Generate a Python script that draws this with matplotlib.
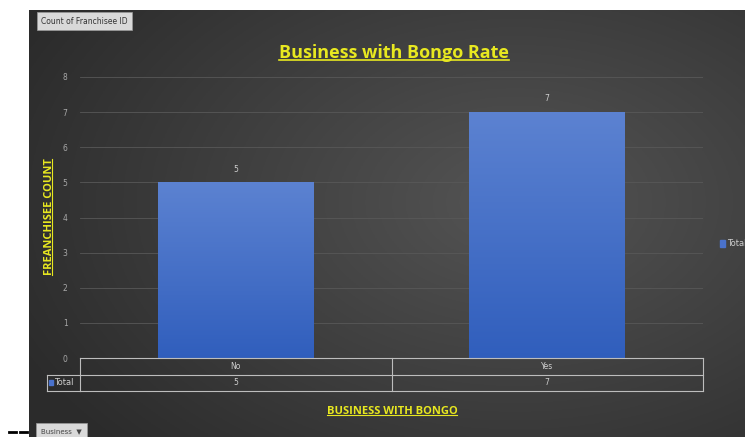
import numpy as np
import matplotlib.pyplot as plt
from matplotlib.patches import Rectangle

categories = ["No", "Yes"]
counts = [5, 7]
series_name = "Total"
title = "Business with Bongo Rate"
xlabel = "BUSINESS WITH BONGO"
ylabel = "FREANCHISEE COUNT"

W, H = 745, 437
fig = plt.figure(figsize=(W / 100, H / 100), dpi=100)
fig.patch.set_facecolor("white")

def fx(px):
    return px / W

def fy(py):
    return 1 - py / H

# dark radial background of the chart area
bg = fig.add_axes([fx(29), 0, 1 - fx(29), fy(10)])
bg.set_axis_off()
yy, xx = np.mgrid[1:0:200j, 0:1:300j]
r = np.sqrt(((xx - 0.68) * 1.3) ** 2 + ((yy - 0.55) * 1.2) ** 2)
shade = 0.33 - 0.16 * np.clip(r, 0, 1.0)
bg.imshow(np.dstack([shade] * 3), aspect="auto", extent=[0, 1, 0, 1])
bg.set_xlim(0, 1)
bg.set_ylim(0, 1)

ax = fig.add_axes([fx(80), fy(358), fx(703) - fx(80), fy(77) - fy(358)])
ax.patch.set_alpha(0)
x = np.arange(len(categories))
ax.set_yticks(range(0, 9))
ax.yaxis.grid(True, color="#585858", linewidth=0.6)
ax.set_axisbelow(True)
for s in ax.spines.values():
    s.set_visible(False)
ax.tick_params(axis="y", length=0, colors="#a8a8a8", labelsize=5.5, pad=9)
ax.tick_params(axis="x", length=0, labelbottom=False)

grad = np.linspace(0, 1, 100).reshape(-1, 1)
bar_cols = np.array([0.36, 0.51, 0.82]) * (1 - grad) + np.array([0.19, 0.37, 0.74]) * grad
bar_cols = bar_cols.reshape(100, 1, 3)
bars = ax.bar(x, counts, width=0.5, color="none", edgecolor="none")
for b, v in zip(bars, counts):
    im = ax.imshow(bar_cols, aspect="auto",
                   extent=[b.get_x(), b.get_x() + b.get_width(), 0, v], zorder=2)
    im.set_clip_path(b)
    ax.text(b.get_x() + b.get_width() / 2, v + 0.25, str(v), ha="center",
            va="bottom", color="#cfcfcf", fontsize=5.5)
ax.set_xlim(-0.5, len(categories) - 0.5)
ax.set_ylim(0, 8)

# data table under the axis
tr = ax.get_xaxis_transform()
row = 16.5 / (358 - 77)
lc = "#bdbdbd"
ax.plot([-0.5, 1.5], [0, 0], color=lc, lw=0.8, transform=tr, clip_on=False)
ax.plot([-0.5, 1.5], [-row, -row], color=lc, lw=0.8, transform=tr, clip_on=False)
ax.plot([-0.5, 1.5], [-2 * row, -2 * row], color=lc, lw=0.8, transform=tr, clip_on=False)
for xv in [-0.5, 0.5, 1.5]:
    ax.plot([xv, xv], [0, -2 * row], color=lc, lw=0.8, transform=tr, clip_on=False)
legx = -0.5 - 33 / 311.5
ax.plot([legx, -0.5], [-row, -row], color=lc, lw=0.8, transform=tr, clip_on=False)
ax.plot([legx, -0.5], [-2 * row, -2 * row], color=lc, lw=0.8, transform=tr, clip_on=False)
ax.plot([legx, legx], [-row, -2 * row], color=lc, lw=0.8, transform=tr, clip_on=False)
for xi, c, v in zip(x, categories, counts):
    ax.text(xi, -0.5 * row, c, transform=tr, ha="center", va="center",
            color="#cfcfcf", fontsize=5.5)
    ax.text(xi, -1.5 * row, str(v), transform=tr, ha="center", va="center",
            color="#cfcfcf", fontsize=5.5)
ax.add_patch(Rectangle((legx + 0.008, -1.5 * row - 0.009), 0.012, 0.018, transform=tr,
                       color="#4a72cc", clip_on=False))
ax.text(legx + 0.024, -1.5 * row, series_name, transform=tr, ha="left", va="center",
        color="#cfcfcf", fontsize=6)

yellow = "#e8e820"
t1 = fig.text(fx(394), fy(53), title, ha="center", va="center", color=yellow,
              fontsize=13, fontweight="bold", family="Open Sans")
t2 = fig.text(fx(392), fy(411), xlabel, ha="center", va="center", color=yellow,
              fontsize=8, fontweight="bold", family="Open Sans")
t3 = fig.text(fx(49), fy(217), ylabel, ha="center", va="center", color=yellow,
              fontsize=8, fontweight="bold", rotation=90, family="Open Sans")

# legend on the right, clipped at the edge
fig.patches.append(Rectangle((fx(720), fy(247)), fx(5), fy(240) - fy(247),
                             transform=fig.transFigure, color="#4a72cc"))
fig.text(fx(727), fy(243), series_name, ha="left", va="center", color="#cfcfcf",
         fontsize=6)

# field buttons
fig.text(fx(41), fy(21), "Count of Franchisee ID", ha="left", va="center",
         color="#333333", fontsize=5.5,
         bbox=dict(boxstyle="square,pad=0.55", fc="#d9d9d9", ec="#9a9a9a", lw=0.5))
fig.text(fx(41), fy(431), "Business  \u25bc", ha="left", va="center",
         color="#444444", fontsize=5,
         bbox=dict(boxstyle="square,pad=0.7", fc="#d9d9d9", ec="#9a9a9a", lw=0.5))
fig.add_artist(plt.Line2D([fx(9), fx(16)], [fy(432), fy(432)], color="black", lw=2,
                          transform=fig.transFigure))
fig.add_artist(plt.Line2D([fx(20), fx(27)], [fy(432), fy(432)], color="black", lw=2,
                          transform=fig.transFigure))

# underline the yellow titles
fig.canvas.draw()
rend = fig.canvas.get_renderer()
inv = fig.transFigure.inverted()
for t, lw in [(t1, 1.2), (t2, 0.8)]:
    bb = t.get_window_extent(rend).transformed(inv)
    fig.add_artist(plt.Line2D([bb.x0, bb.x1], [bb.y0 + 0.004, bb.y0 + 0.004],
                              color=yellow, lw=lw, transform=fig.transFigure))
bb = t3.get_window_extent(rend).transformed(inv)
fig.add_artist(plt.Line2D([bb.x1 - 0.003, bb.x1 - 0.003], [bb.y0, bb.y1],
                          color=yellow, lw=0.8, transform=fig.transFigure))

fig.savefig("out.png", dpi=100)
